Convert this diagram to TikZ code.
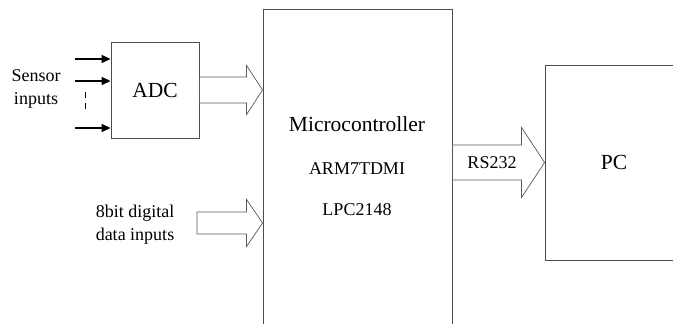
\documentclass[tikz,border=0pt]{standalone}
\usepackage{fontspec}
\setmainfont{Liberation Serif}
\usetikzlibrary{arrows.meta,calc,positioning}

\tikzset{
  box/.style={draw=black!70, line width=0.9pt, rectangle, inner sep=0pt},
  fat/.style={draw=black!65, line width=0.7pt, line join=miter},
  sensor/.style={line width=1.4pt, -{Triangle[length=9pt,width=8pt]}},
  small/.style={font=\fontsize{18}{23}\selectfont},
  big/.style={font=\fontsize{21.5}{25}\selectfont}
}
% hollow block arrow: from, tip, shaft half width, head half width, head length
\newcommand{\fatarrow}[5]{%
  \draw[fat] let \p1=(#1), \p2=(#2) in
    (\x1,{\y2+#3pt}) -- ({\x2-#5pt},{\y2+#3pt}) -- ({\x2-#5pt},{\y2+#4pt})
    -- (\x2,\y2) -- ({\x2-#5pt},{\y2-#4pt}) -- ({\x2-#5pt},{\y2-#3pt})
    -- (\x1,{\y2-#3pt}) -- cycle;}

\begin{document}
\begin{tikzpicture}[x=1pt, y=-1pt]
  \clip (0,0) rectangle (673,324);
  \fill[white] (0,0) rectangle (673,324);

  \node[box, big, minimum width=88pt, minimum height=96pt] (adc) at (155,90) {ADC};
  \node[box, minimum width=189pt, minimum height=340pt] (mcu) at (357.5,179) {};
  \node[box, big, minimum width=138pt, minimum height=195pt] (pc) at (614,162.5) {PC};

  \node[big] (mcuname) at (357,124) {Microcontroller};
  \node[small] (core) at (357,169) {ARM7TDMI};
  \node[small] (chip) at (357,210) {LPC2148};

  % sensor inputs
  \node[small, align=center] (sens) at (36,88.5) {Sensor\\inputs};
  \foreach \i/\y in {1/59, 2/81, 3/128} {
    \coordinate (s\i) at (75,\y);
    \draw[sensor] (s\i) -- (adc.west |- s\i);
  }
  \draw[line width=0.8pt, dash pattern=on 6pt off 5pt] (85,92) -- (85,110);

  % digital inputs
  \node[small, align=center] (dig) at (135,225) {8bit digital\\data inputs};
  \coordinate (digin) at (197,223);

  \fatarrow{adc.east}{mcu.west |- adc.east}{13}{24.5}{16}
  \fatarrow{digin}{mcu.west |- digin}{11}{23.5}{16}
  \fatarrow{mcu.east |- pc.west}{pc.west}{17.5}{35}{23}
  \node[small] (rs) at (492,163) {RS232};
\end{tikzpicture}
\end{document}
